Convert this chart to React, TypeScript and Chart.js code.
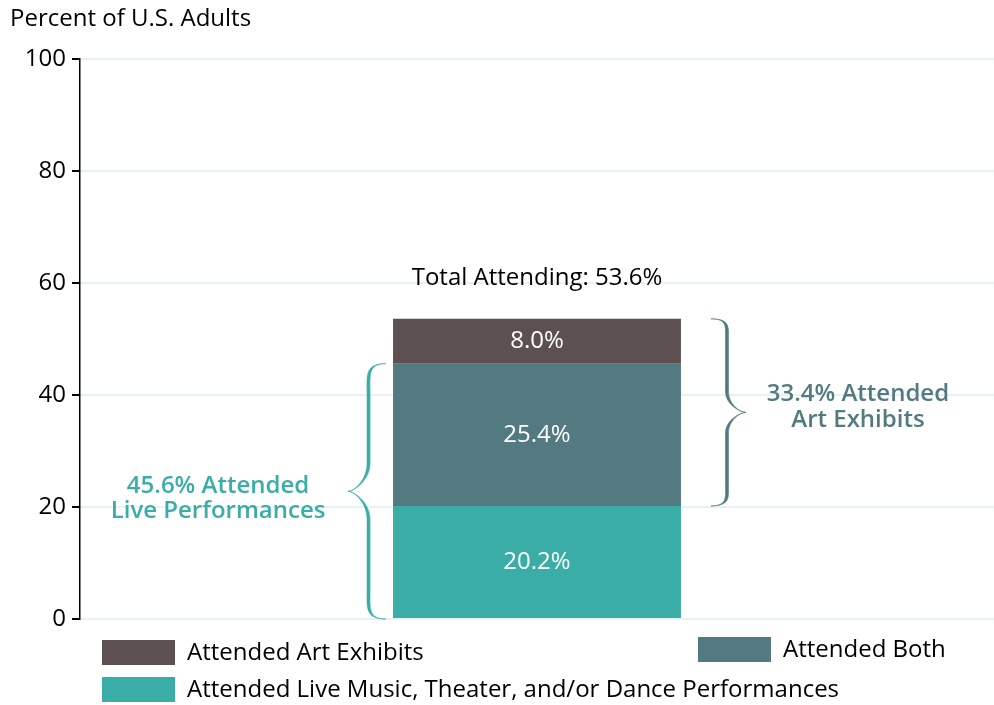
import React, { useEffect, useRef } from "react";
import { Chart, registerables } from "chart.js";
Chart.register(...registerables);

const categories = ["U.S. Adults"];
const seriesNames = [
  "Attended Live Music, Theater, and/or Dance Performances",
  "Attended Both",
  "Attended Art Exhibits",
];
const liveOnly = [20.2];
const both = [25.4];
const artOnly = [8.0];
const yTicks = [0, 20, 40, 60, 80, 100];
const yTitle = "Percent of U.S. Adults";
const totalLabel = "Total Attending: 53.6%";
const leftBraceText = ["45.6% Attended", "Live Performances"];
const rightBraceText = ["33.4% Attended", "Art Exhibits"];

const COLORS = ["#3aada7", "#527a80", "#5c5150"];
const FONT = "'Open Sans', 'Noto Sans', sans-serif";

function drawBrace(
  ctx: CanvasRenderingContext2D,
  xEnd: number,
  xTip: number,
  yTop: number,
  yBot: number,
  color: string
) {
  const dir = xTip < xEnd ? -1 : 1;
  const yM = (yTop + yBot) / 2;
  const half = (yBot - yTop) / 2;
  const r = half * 0.22;
  const xMid = (xEnd + xTip) / 2;
  const w = 3.0;
  ctx.save();
  ctx.fillStyle = color;
  ctx.beginPath();
  let xm = xMid;
  ctx.moveTo(xEnd, yTop);
  ctx.bezierCurveTo(xm + dir * 2, yTop, xm, yTop + r * 0.4, xm, yTop + r);
  ctx.lineTo(xm, yM - r);
  ctx.bezierCurveTo(xm, yM - r * 0.4, xTip - dir * 6, yM, xTip, yM);
  ctx.bezierCurveTo(xTip - dir * 6, yM, xm, yM + r * 0.4, xm, yM + r);
  ctx.lineTo(xm, yBot - r);
  ctx.bezierCurveTo(xm, yBot - r * 0.4, xm + dir * 2, yBot, xEnd, yBot);
  xm = xMid - dir * w;
  ctx.bezierCurveTo(xm + dir * 2, yBot, xm, yBot - r * 0.4, xm, yBot - r);
  ctx.lineTo(xm, yM + r);
  ctx.bezierCurveTo(xm, yM + r * 0.4, xTip - dir * 6, yM, xTip, yM);
  ctx.bezierCurveTo(xTip - dir * 6, yM, xm, yM - r * 0.4, xm, yM - r);
  ctx.lineTo(xm, yTop + r);
  ctx.bezierCurveTo(xm, yTop + r * 0.4, xm + dir * 2, yTop, xEnd, yTop);
  ctx.closePath();
  ctx.fill();
  ctx.strokeStyle = color;
  ctx.lineWidth = 0.6;
  ctx.stroke();
  ctx.restore();
}

const annotations = {
  id: "annotations",
  afterDatasetsDraw(chart: any) {
    const ctx: CanvasRenderingContext2D = chart.ctx;
    const y = chart.scales.y;
    const bars = [0, 1, 2].map((i) => chart.getDatasetMeta(i).data[0] as any);
    const values = [liveOnly[0], both[0], artOnly[0]];
    ctx.save();
    ctx.textAlign = "center";
    ctx.textBaseline = "middle";
    ctx.fillStyle = "#ffffff";
    ctx.font = `24px ${FONT}`;
    bars.forEach((b, i) => {
      ctx.fillText(values[i].toFixed(1) + "%", b.x, (b.y + b.base) / 2);
    });
    const bar = bars[2];
    const left = bar.x - bar.width / 2;
    const right = bar.x + bar.width / 2;
    ctx.fillStyle = "#000000";
    ctx.fillText(totalLabel, bar.x, bar.y - 41);

    // left brace: live performances (live only + both)
    const lTop = y.getPixelForValue(liveOnly[0] + both[0]);
    const lBot = y.getPixelForValue(0);
    drawBrace(ctx, left - 7, left - 45, lTop, lBot, COLORS[0]);
    const lMid = (lTop + lBot) / 2;
    ctx.fillStyle = COLORS[0];
    ctx.font = `600 24px ${FONT}`;
    ctx.fillText(leftBraceText[0], left - 175, lMid - 5);
    ctx.fillText(leftBraceText[1], left - 175, lMid + 20);

    // right brace: art exhibits (both + art only)
    const rTop = y.getPixelForValue(liveOnly[0] + both[0] + artOnly[0]);
    const rBot = y.getPixelForValue(liveOnly[0]);
    drawBrace(ctx, right + 30, right + 65, rTop, rBot, COLORS[1]);
    const rMid = (rTop + rBot) / 2;
    ctx.fillStyle = COLORS[1];
    ctx.fillText(rightBraceText[0], right + 177, rMid - 18);
    ctx.fillText(rightBraceText[1], right + 177, rMid + 8);
    ctx.restore();
  },
  afterDraw(chart: any) {
    const ctx: CanvasRenderingContext2D = chart.ctx;
    ctx.save();
    ctx.fillStyle = "#000";
    ctx.font = `24px ${FONT}`;
    ctx.textAlign = "left";
    ctx.textBaseline = "middle";
    ctx.fillText(yTitle, 10, 19);
    const items = [
      { name: seriesNames[2], color: COLORS[2], x: 102, y: 640 },
      { name: seriesNames[1], color: COLORS[1], x: 698, y: 637 },
      { name: seriesNames[0], color: COLORS[0], x: 102, y: 677 },
    ];
    items.forEach((it) => {
      ctx.fillStyle = it.color;
      ctx.fillRect(it.x, it.y, 73, 25);
      ctx.fillStyle = "#000";
      ctx.fillText(it.name, it.x + 85, it.y + 13);
    });
    ctx.restore();
  },
};

export default function App() {
  const ref = useRef<HTMLCanvasElement | null>(null);
  useEffect(() => {
    document.body.style.margin = "0";
    const canvas = ref.current!;
    const chart = new Chart(canvas, {
      type: "bar",
      data: {
        labels: categories,
        datasets: [
          { label: seriesNames[0], data: liveOnly, backgroundColor: COLORS[0] },
          { label: seriesNames[1], data: both, backgroundColor: COLORS[1] },
          { label: seriesNames[2], data: artOnly, backgroundColor: COLORS[2] },
        ],
      },
      options: {
        responsive: false,
        animation: false,
        layout: { padding: { top: 59, bottom: 86, left: 0, right: -4 } },
        plugins: { legend: { display: false }, tooltip: { enabled: false } },
        datasets: { bar: { categoryPercentage: 1, barPercentage: 0.315 } } as any,
        scales: {
          x: { stacked: true, display: false },
          y: {
            stacked: true,
            min: 0,
            max: 100,
            afterFit: (s: any) => {
              s.width = 80;
            },
            afterBuildTicks: (s: any) => {
              s.ticks = yTicks.map((v) => ({ value: v }));
            },
            ticks: {
              color: "#000",
              font: { size: 24, family: FONT },
              padding: 6,
            },
            grid: {
              color: "#e6f2f4",
              lineWidth: 2,
              tickColor: "#000",
              tickLength: 8,
              drawTicks: true,
            },
            border: { color: "#000", width: 1.5 },
          },
        },
      },
      plugins: [annotations],
    });
    return () => chart.destroy();
  }, []);
  return (
    <div style={{ width: 994, height: 705 }}>
      <canvas ref={ref} width={994} height={705} />
    </div>
  );
}
